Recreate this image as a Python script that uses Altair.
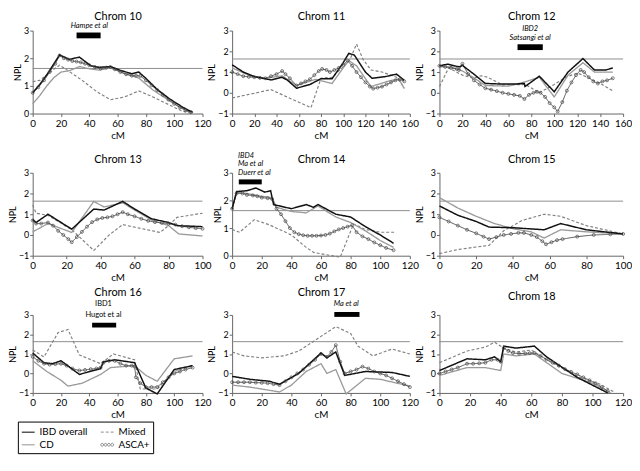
import altair as alt
import pandas as pd

FONT = "Lato"
SERIES = ["IBD overall", "CD", "Mixed", "ASCA+"]
COLORS = ["#111111", "#9a9a9a", "#808080", "#555555"]
DASHES = [[1, 0], [1, 0], [3, 2], [1, 0]]
WIDTHS = [1.5, 1.0, 1.0, 1.0]
THRESHOLD = 1.63

# ---- Chrom 10 ----
C10_IBD = [(0,0.75),(5,1.05),(10,1.4),(15,1.8),(19,2.12),(26,1.96),(33,2.04),(41,1.73),(47,1.67),(55,1.7),(62,1.56),(70,1.44),(75,1.5),(80,1.27),(88,0.87),(97,0.52),(106,0.23),(113,0.04)]
C10_CD = [(0,0.35),(5,0.65),(10,1.0),(15,1.3),(20,1.5),(26,1.55),(33,1.7),(40,1.62),(47,1.57),(55,1.65),(65,1.45),(75,1.28),(85,0.85),(97,0.45),(106,0.18),(112,0.0)]
C10_MIX = [(0,1.15),(5,1.2),(10,1.4),(15,1.6),(19,1.75),(25,1.55),(35,1.2),(45,0.8),(55,0.5),(65,0.6),(75,0.82),(85,0.6),(97,0.3),(105,0.1),(112,0.0)]
C10_ASCA = [(0,0.75),(4,0.95),(8,1.2),(12,1.5),(16,1.8),(19,2.1),(22,2.0),(25,1.95),(28,1.9),(31,1.88),(34,1.85),(37,1.8),(40,1.75),(44,1.68),(48,1.63),(52,1.66),(55,1.68),(58,1.6),(62,1.5),(66,1.42),(70,1.37),(73,1.37),(76,1.36),(80,1.2),(84,1.02),(88,0.85),(92,0.68),(96,0.5),(100,0.35),(104,0.22),(108,0.12),(112,0.05)]

# ---- Chrom 11 ----
C11_IBD = [(0,1.35),(10,1.0),(20,0.78),(35,0.62),(45,0.75),(50,0.6),(58,0.22),(70,0.4),(80,0.68),(90,0.68),(100,1.45),(105,1.9),(110,1.82),(120,1.0),(126,0.7),(138,0.78),(148,0.9),(155,0.6)]
C11_CD = [(0,1.2),(15,0.85),(30,0.7),(45,0.82),(58,0.35),(75,0.65),(90,0.45),(100,1.2),(105,1.55),(112,1.3),(125,0.3),(140,0.55),(150,0.68),(155,0.2)]
C11_MIX = [(0,-0.25),(35,0.15),(71,-0.72),(80,0.7),(90,0.75),(100,1.25),(106,1.6),(112,2.35),(118,1.6),(125,1.1),(135,1.0),(148,0.75),(155,0.25)]
C11_ASCA = [(0,1.0),(5,0.9),(10,0.8),(15,0.77),(20,0.75),(25,0.72),(30,0.7),(35,0.8),(40,0.9),(45,1.05),(48,0.9),(52,0.7),(58,0.35),(62,0.45),(66,0.55),(70,0.65),(74,0.85),(78,1.05),(81,1.15),(85,1.1),(88,1.0),(92,1.1),(96,1.2),(100,1.35),(104,1.55),(108,1.3),(112,1.0),(116,0.75),(120,0.5),(124,0.3),(127,0.2),(131,0.25),(135,0.3),(139,0.4),(143,0.5),(147,0.6),(151,0.65),(155,0.55)]

# ---- Chrom 12 ----
C12_IBD = [(0,1.3),(7,1.38),(17,1.25),(20,1.32),(30,0.9),(40,0.45),(55,0.42),(65,0.42),(74,0.45),(74.5,0.3),(87,0.8),(100,0.05),(112,1.0),(125,1.65),(135,1.1),(145,1.1),(151,1.2)]
C12_CD = [(0,1.25),(10,1.25),(20,1.05),(30,0.72),(40,0.35),(60,0.32),(73,0.5),(87,0.75),(100,-0.2),(112,0.85),(125,1.45),(135,1.0),(151,1.0)]
C12_MIX = [(0,0.3),(8,1.2),(20,0.85),(30,0.7),(36,0.82),(42,0.75),(55,0.38),(75,0.4),(87,0.0),(100,0.4),(110,0.75),(120,0.95),(125,0.85),(140,0.45),(151,0.1)]
C12_ASCA = [(0,1.3),(5,1.25),(10,1.2),(15,1.15),(17,1.1),(20,1.4),(25,0.9),(30,0.6),(35,0.4),(40,0.22),(45,0.15),(50,0.08),(55,0.0),(60,-0.05),(65,-0.1),(70,-0.15),(74,-0.3),(78,-0.1),(82,0.0),(85,0.05),(88,0.0),(92,-0.2),(96,-0.5),(100,-0.7),(103,-0.9),(107,-0.45),(111,0.1),(115,0.5),(119,0.85),(123,1.1),(126,1.0),(130,0.75),(134,0.55),(138,0.45),(142,0.55),(146,0.6),(151,0.7)]

# ---- Chrom 13 ----
C13_IBD = [(0,0.75),(2,0.6),(9,1.0),(23,0.28),(36,1.25),(42,1.2),(53,1.62),(60,1.25),(70,0.78),(80,0.6),(85,0.45),(100,0.4)]
C13_CD = [(0,0.15),(9,0.55),(23,0.12),(36,1.62),(42,1.35),(53,1.55),(70,0.72),(80,0.45),(86,0.05),(100,-0.05)]
C13_MIX = [(0,1.45),(2,1.05),(9,0.95),(23,0.25),(36,-0.75),(45,0.0),(53,0.5),(75,0.12),(80,0.45),(85,0.85),(100,1.05)]
C13_ASCA = [(0,0.7),(2,0.55),(5,0.55),(9,0.6),(12,0.45),(15,0.2),(18,0.0),(21,-0.2),(23,-0.35),(26,-0.1),(29,0.15),(32,0.4),(35,0.62),(38,0.75),(41,0.82),(44,0.85),(47,0.9),(50,1.0),(53,1.1),(56,1.0),(60,0.9),(64,0.78),(68,0.68),(72,0.62),(76,0.58),(80,0.55),(84,0.5),(88,0.42),(92,0.37),(96,0.33),(100,0.3)]

# ---- Chrom 14 ----
C14_IBD = [(0,1.7),(3,2.32),(10,2.35),(16,2.45),(22,2.3),(26,2.35),(28,1.85),(40,1.7),(50,1.85),(55,1.75),(58,1.85),(70,1.5),(80,1.4),(90,1.05),(100,0.75),(109,0.45)]
C14_CD = [(0,1.7),(3,2.3),(10,2.25),(20,2.15),(27,2.1),(30,1.75),(40,1.6),(50,1.55),(58,1.8),(70,1.4),(80,1.2),(90,0.9),(100,0.55),(109,0.3)]
C14_MIX = [(0,0.95),(5,0.85),(15,1.3),(25,1.12),(40,0.75),(50,0.3),(55,0.12),(65,0.02),(73,-0.05),(82,1.15),(90,0.95),(100,0.85),(110,0.85)]
C14_ASCA = [(0,1.7),(3,2.25),(7,2.25),(10,2.2),(14,2.18),(17,2.15),(20,2.1),(24,2.08),(27,2.05),(30,1.7),(33,1.5),(36,1.25),(39,1.0),(42,0.85),(45,0.78),(48,0.74),(51,0.72),(54,0.72),(57,0.72),(60,0.73),(63,0.75),(66,0.8),(69,0.88),(72,0.95),(75,1.0),(78,1.05),(81,1.1),(84,0.85),(88,0.7),(92,0.6),(96,0.48),(100,0.38),(104,0.28),(109,0.2)]

# ---- Chrom 15 ----
C15_IBD = [(0,1.4),(10,0.95),(20,0.65),(27,0.38),(40,0.35),(57,0.25),(66,0.55),(80,0.25),(100,0.05)]
C15_CD = [(0,1.8),(10,1.3),(20,0.9),(30,0.55),(40,0.3),(50,0.15),(57,-0.15),(66,0.25),(80,0.15),(100,0.05)]
C15_MIX = [(0,-0.9),(10,-0.7),(27,-0.5),(35,0.2),(45,0.7),(57,1.0),(66,0.9),(80,0.45),(100,0.05)]
C15_ASCA = [(0,0.85),(5,0.65),(10,0.45),(15,0.25),(20,0.08),(24,-0.08),(27,-0.2),(31,-0.1),(35,0.0),(39,0.05),(43,0.1),(46,0.1),(50,0.0),(53,-0.1),(56,-0.3),(58,-0.45),(61,-0.35),(64,-0.25),(67,-0.2),(75,-0.08),(84,0.0),(93,0.03),(100,0.05)]

# ---- Chrom 16 ----
C16_IBD = [(0,1.05),(8,0.55),(14,0.5),(20,0.65),(33,-0.05),(48,0.25),(50,0.6),(58,0.7),(72,0.55),(80,-0.75),(88,-1.05),(100,0.2),(113,0.4)]
C16_CD = [(0,0.65),(10,0.1),(20,-0.35),(25,-0.65),(35,-0.5),(48,-0.05),(55,0.3),(72,0.4),(80,-0.1),(88,-0.4),(100,0.75),(113,0.9)]
C16_MIX = [(0,1.2),(8,0.85),(18,2.1),(25,2.25),(33,0.95),(48,0.5),(57,1.0),(72,0.7),(76,-0.8),(88,-0.8),(100,0.1),(113,0.4)]
C16_ASCA = [(0,0.85),(4,0.65),(8,0.5),(12,0.45),(16,0.48),(20,0.5),(24,0.4),(28,0.25),(33,0.15),(37,0.18),(41,0.22),(45,0.25),(48,0.3),(50,0.55),(54,0.65),(58,0.65),(62,0.5),(66,0.4),(70,0.4),(72,0.35),(73,-0.2),(76,-0.5),(80,-0.7),(84,-0.7),(88,-0.7),(92,-0.45),(96,-0.2),(100,0.0),(104,0.1),(108,0.2),(113,0.3)]

# ---- Chrom 17 ----
C17_IBD = [(0,-0.15),(12,-0.3),(25,-0.4),(32,-0.55),(45,0.0),(60,1.05),(64,0.8),(70,1.1),(76,-0.1),(90,0.1),(108,0.05),(120,-0.15)]
C17_CD = [(0,-0.6),(12,-0.7),(32,-0.95),(40,-0.6),(50,0.1),(60,0.5),(64,0.0),(70,0.2),(77,-1.05),(90,-0.25),(100,-0.3),(120,-0.65)]
C17_MIX = [(0,1.1),(8,0.9),(20,0.8),(35,0.9),(45,1.15),(60,1.9),(70,2.4),(80,2.05),(85,1.4),(95,0.9),(108,1.25),(120,1.0)]
C17_ASCA = [(0,-0.45),(4,-0.45),(8,-0.45),(12,-0.45),(16,-0.47),(20,-0.48),(24,-0.5),(28,-0.55),(32,-0.6),(36,-0.4),(40,-0.2),(44,0.0),(48,0.2),(52,0.45),(56,0.7),(60,1.0),(64,0.85),(67,1.1),(70,1.45),(73,0.6),(76,0.0),(80,0.1),(84,0.2),(88,0.35),(92,0.25),(96,0.1),(100,0.0),(104,-0.1),(108,-0.25),(112,-0.4),(116,-0.55),(120,-0.7)]

# ---- Chrom 18 ----
C18_IBD = [(0,0.15),(18,0.75),(30,0.7),(36,0.85),(40,0.6),(42,1.4),(50,1.3),(62,1.4),(70,0.85),(90,-0.2),(110,-1.0)]
C18_CD = [(0,-0.1),(18,0.3),(30,0.3),(40,0.15),(42,1.0),(50,0.9),(62,1.0),(80,0.0),(100,-0.5),(112,-1.0)]
C18_MIX = [(0,0.55),(18,1.15),(30,1.35),(36,1.6),(42,1.3),(50,1.1),(60,1.2),(70,0.7),(90,-0.15),(105,-0.55),(114,-0.95)]
C18_ASCA = [(0,0.0),(4,0.1),(8,0.2),(12,0.3),(18,0.5),(22,0.5),(26,0.52),(30,0.55),(34,0.7),(38,0.7),(40,0.6),(42,1.3),(45,1.15),(48,1.05),(52,1.02),(56,1.03),(59,1.04),(62,1.05),(66,0.9),(70,0.72),(74,0.55),(78,0.4),(82,0.22),(86,0.08),(90,-0.05),(94,-0.2),(98,-0.35),(102,-0.5),(106,-0.7),(110,-0.9)]

# ---- annotations: (x1, x2, y1, y2) bars and (x, y, text) notes ----
C10_BARS = [(31, 48, 2.72, 2.93)]
C10_NOTES = [(40, 3.17, "Hampe et al")]
C12_BARS = [(68, 90, 2.06, 2.34)]
C12_NOTES = [(79, 2.62, "Satsangi et al"), (79, 3.08, "IBD2")]
C14_BARS = [(4.5, 20, 2.58, 2.76)]
C14_NOTES = [(4, 2.98, "Duerr et al"), (4, 3.3, "Ma et al"), (4, 3.62, "IBD4")]
C16_BARS = [(42, 59, 2.36, 2.6)]
C16_NOTES = [(50, 3.0, "Hugot et al"), (50, 3.54, "IBD1")]
C17_BARS = [(69, 86, 2.9, 3.15)]
C17_NOTES = [(77, 3.54, "Ma et al")]


def circle_path():
    parts = []
    for cx in (-0.78, -0.26, 0.26, 0.78):
        parts.append(f"M{cx-0.22:.2f},0a0.22,0.22 0 1,0 0.44,0a0.22,0.22 0 1,0 -0.44,0")
    return "".join(parts)


SHAPES = ["stroke", "stroke", "stroke", circle_path()]

LEGEND = alt.Legend(
    title=None, orient="none", legendX=-15, legendY=396, columns=2,
    symbolType="stroke", symbolSize=170, symbolFillColor="transparent",
    strokeColor="#000", padding=3,
    labelFont=FONT, labelFontSize=10, labelColor="#000", labelOffset=4,
    columnPadding=10, rowPadding=0,
)


def panel(title, ibd, cd, mixed, asca, xmax, ymin, w, h, tpad,
          bars=None, notes=None, italic=True, align="center"):
    rows = []
    for name, pts in (("Mixed", mixed), ("CD", cd), ("ASCA+", asca), ("IBD overall", ibd)):
        for x, y in pts:
            rows.append({"series": name, "cM": x, "NPL": y})
    df = pd.DataFrame(rows)
    xs = alt.Scale(domain=[0, xmax], nice=False, zero=False)
    ys = alt.Scale(domain=[ymin, 3], nice=False, zero=False)

    def yax():
        return alt.Axis(values=list(range(ymin, 4)), title="NPL", labelOverlap=False, labelBound=False)

    rule = alt.Chart(pd.DataFrame({"t": [THRESHOLD]})).mark_rule(
        color="#8c8c8c", strokeWidth=1
    ).encode(y=alt.Y("t:Q", scale=ys, axis=yax()))

    lines = alt.Chart(df).mark_line().encode(
        x=alt.X("cM:Q", scale=xs, axis=alt.Axis(orient="bottom", values=list(range(0, xmax + 1, 20)), title="cM")),
        y=alt.Y("NPL:Q", scale=ys, axis=yax()),
        color=alt.Color("series:N", scale=alt.Scale(domain=SERIES, range=COLORS), legend=LEGEND),
        strokeDash=alt.StrokeDash("series:N", scale=alt.Scale(domain=SERIES, range=DASHES), legend=LEGEND),
        strokeWidth=alt.StrokeWidth("series:N", scale=alt.Scale(domain=SERIES, range=WIDTHS), legend=None),
    )

    pts = alt.Chart(df).transform_filter(alt.datum.series == "ASCA+").mark_point(
        shape="circle", filled=False, size=9, strokeWidth=0.7, color="#444444", opacity=1
    ).encode(
        x=alt.X("cM:Q", scale=xs, axis=alt.Axis(orient="top", title=title, labels=False, ticks=False,
                                               domain=False, titleFontSize=11, titlePadding=tpad,
                                               titleFont=FONT, titleFontWeight=400)),
        y=alt.Y("NPL:Q", scale=ys, axis=yax()),
    )

    # empty layer that only supplies the legend symbol shapes
    key = alt.Chart(df).transform_filter("false").mark_point(filled=False).encode(
        x=alt.X("cM:Q", scale=xs, axis=None),
        y=alt.Y("NPL:Q", scale=ys, axis=yax()),
        shape=alt.Shape("series:N", scale=alt.Scale(domain=SERIES, range=SHAPES), legend=LEGEND),
    )
    layers = [rule, lines, pts, key]
    if bars:
        bdf = pd.DataFrame(bars, columns=["x1", "x2", "y1", "y2"])
        layers.append(alt.Chart(bdf).mark_rect(color="#000").encode(
            x=alt.X("x1:Q", scale=xs, axis=None), x2="x2:Q",
            y=alt.Y("y1:Q", scale=ys, axis=yax()), y2="y2:Q"))
    if notes:
        ndf = pd.DataFrame(notes, columns=["x", "y", "label"])
        layers.append(alt.Chart(ndf).mark_text(
            font=FONT, fontSize=7.5, fontStyle="italic" if italic else "normal", align=align, color="#000"
        ).encode(
            x=alt.X("x:Q", scale=xs, axis=None),
            y=alt.Y("y:Q", scale=ys, axis=yax()),
            text="label:N"))
    return alt.layer(*layers).properties(width=w, height=h)


W = [172, 180, 186]
H = [84, 84, 79]

panels = [
    panel("Chrom 10", C10_IBD, C10_CD, C10_MIX, C10_ASCA, 120, 0, W[0], H[0], 9, C10_BARS, C10_NOTES),
    panel("Chrom 11", C11_IBD, C11_CD, C11_MIX, C11_ASCA, 160, -1, W[1], H[0], 9),
    panel("Chrom 12", C12_IBD, C12_CD, C12_MIX, C12_ASCA, 160, -1, W[2], H[0], 9, C12_BARS, C12_NOTES),
    panel("Chrom 13", C13_IBD, C13_CD, C13_MIX, C13_ASCA, 100, -1, W[0], H[1], 8),
    panel("Chrom 14", C14_IBD, C14_CD, C14_MIX, C14_ASCA, 120, 0, W[1], H[1], 8, C14_BARS, C14_NOTES, align="left"),
    panel("Chrom 15", C15_IBD, C15_CD, C15_MIX, C15_ASCA, 100, -1, W[2], H[1], 8),
    panel("Chrom 16", C16_IBD, C16_CD, C16_MIX, C16_ASCA, 120, -1, W[0], H[2], 18, C16_BARS, C16_NOTES, italic=False),
    panel("Chrom 17", C17_IBD, C17_CD, C17_MIX, C17_ASCA, 120, -1, W[1], H[2], 18, C17_BARS, C17_NOTES),
    panel("Chrom 18", C18_IBD, C18_CD, C18_MIX, C18_ASCA, 120, -1, W[2], H[2], 14),
]

chart = alt.concat(
    *panels, columns=3, spacing={"row": 60, "column": 30}, bounds="flush", align="each",
).properties(padding=0).configure_axis(
    grid=False, domainColor="#666666", tickColor="#666666", labelColor="#000", titleColor="#000",
    labelFont=FONT, titleFont=FONT, labelFontSize=10, titleFontSize=10, tickSize=3,
    labelPadding=2, titlePadding=2, titleFontWeight=400, labelFlush=False,
).configure_axisY(
    labelFontSize=9, titleFontSize=9, labelPadding=1, titlePadding=1, minExtent=5,
).configure_view(stroke=None)

chart.save("out.html", embed_options={"renderer": "svg", "actions": False})
